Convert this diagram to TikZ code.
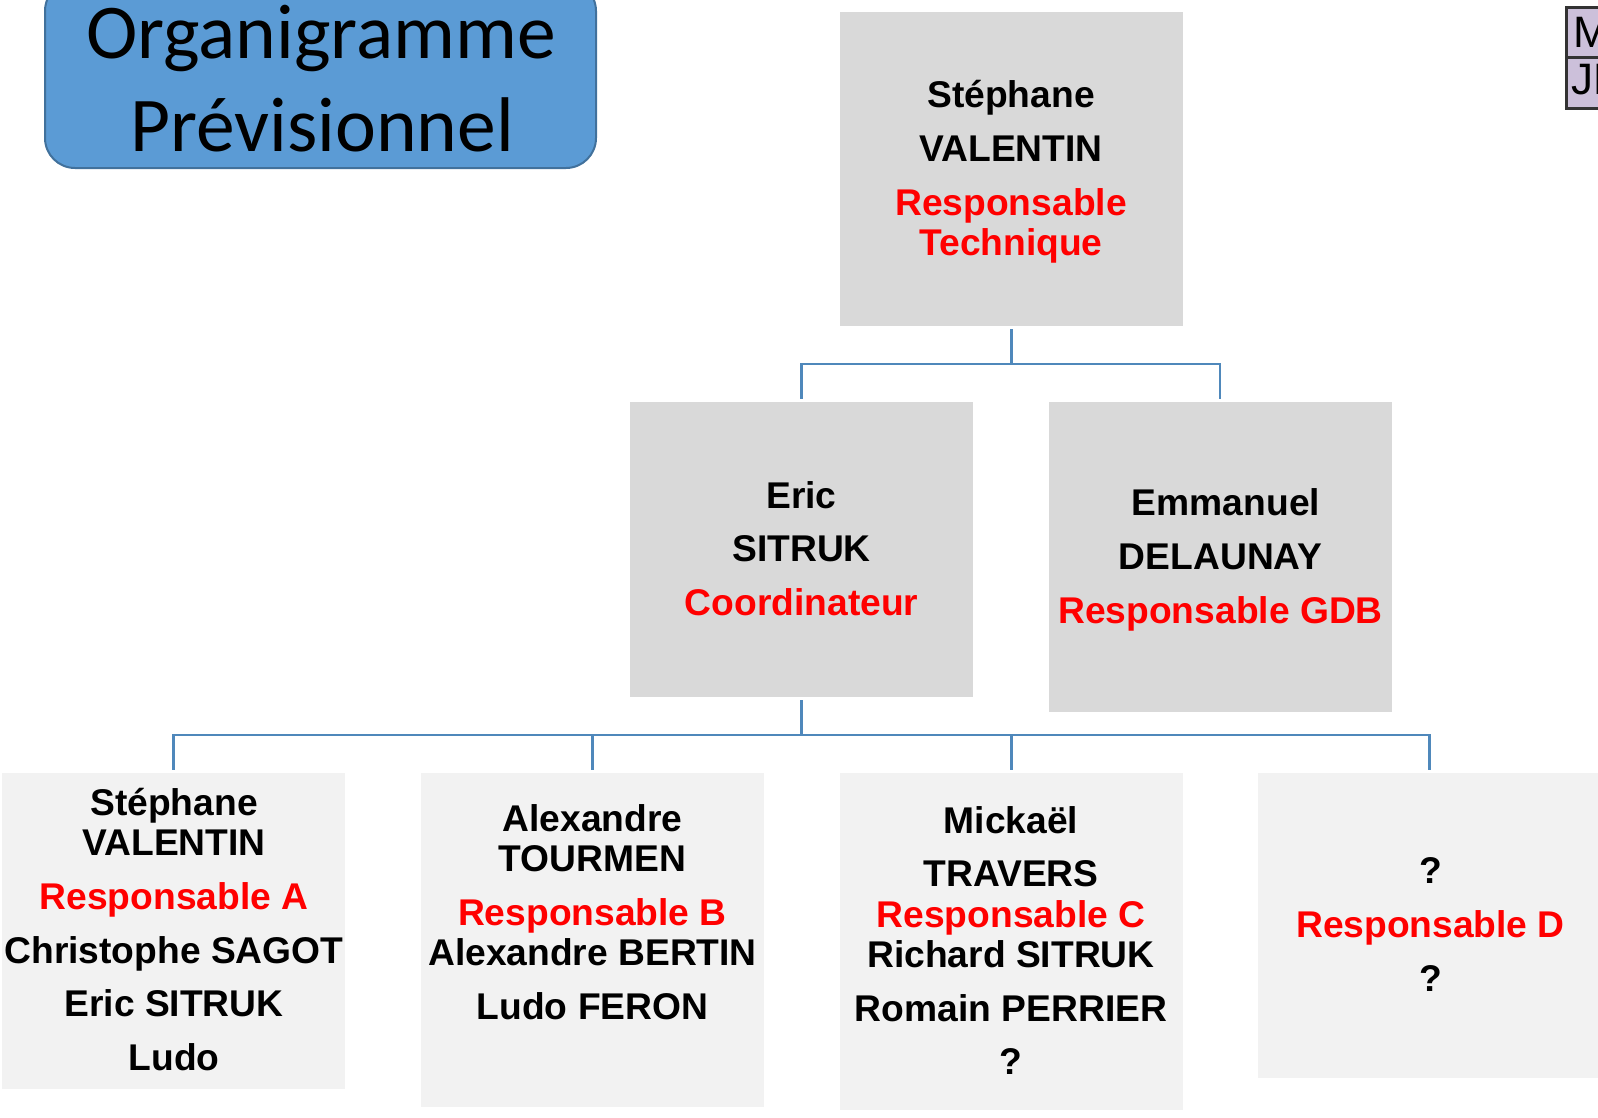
\documentclass[tikz,border=0pt]{standalone}
\usepackage{fontspec}
\setmainfont{Liberation Sans}
\newfontfamily\carlito{Carlito}
\definecolor{titlefill}{HTML}{5B9BD5}
\definecolor{titleline}{HTML}{41719C}
\definecolor{linkblue}{HTML}{4F88BB}
\definecolor{boxdark}{HTML}{D9D9D9}
\definecolor{boxlight}{HTML}{F2F2F2}
\definecolor{legendfill}{HTML}{CCC0DA}
\definecolor{redtext}{HTML}{FF0000}
\tikzset{
  x=1pt,y=-1pt,
  boxbase/.style={anchor=north west,inner sep=0pt,outer sep=0pt,minimum width=343pt},
  darkbox/.style={boxbase,fill=boxdark},
  lightbox/.style={boxbase,fill=boxlight},
  person/.style={anchor=base,inner sep=0pt,font=\fontsize{37.2}{37.2}\selectfont\bfseries,text=black},
  role/.style={person,text=redtext},
  link/.style={draw=linkblue,line width=2.3pt,shorten >=3pt,shorten <=3pt},
  titleline/.style={anchor=base,inner sep=0pt,font=\carlito\fontsize{77.5}{77.5}\selectfont,text=black},
  legendcell/.style={anchor=north west,inner sep=0pt,outer sep=0pt,fill=legendfill,draw=black!80,line width=3pt,minimum width=60pt},
  legendtext/.style={anchor=base west,inner sep=0pt,font=\fontsize{44}{44}\selectfont,text=black},
}
\begin{document}
\begin{tikzpicture}
\useasboundingbox (0,0) rectangle (1598,1117);
\clip (0,0) rectangle (1598,1117);
% title
\node[anchor=north west,inner sep=0pt,minimum width=551pt,minimum height=187pt,rounded corners=30pt,fill=titlefill,draw=titleline,line width=2pt] (title) at (44,-20) {};
\node[titleline] (t1) at (321,58.5) {Organigramme};
\node[titleline] (t2) at (322,151) {Prévisionnel};
% legend
\node[legendcell,minimum height=50pt] (leg1) at (1566,7) {};
\node[legendcell,minimum height=51pt] (leg2) at (1566,57) {};
\node[legendtext] (legt1) at (1573,47) {M};
\node[legendtext] (legt2) at (1571,94) {JB};
% boxes
\node[darkbox,minimum height=314pt] (top) at (840,12) {};
\node[darkbox,minimum height=295.5pt] (eric) at (630,401.5) {};
\node[darkbox,minimum height=310.5pt] (emm) at (1048.5,401.5) {};
\node[lightbox,minimum height=316.5pt] (b1) at (2,772.5) {};
\node[lightbox,minimum height=334.5pt] (b2) at (421,772.5) {};
\node[lightbox,minimum height=337.5pt] (b3) at (840,772.5) {};
\node[lightbox,minimum height=305pt] (b4) at (1258,772.5) {};
% connectors
\coordinate (busa) at (1011,364);
\coordinate (busb) at (801,735);
\draw[link] (top.south) |- (busa) -| (eric.north);
\draw[link] (top.south) |- (busa) -| (emm.north);
\draw[link] (eric.south) |- (busb) -| (b1.north);
\draw[link] (eric.south) |- (busb) -| (b2.north);
\draw[link] (eric.south) |- (busb) -| (b3.north);
\draw[link] (eric.south) |- (busb) -| (b4.north);
% top
\node[person] (a1) at (1011,107) {Stéphane};
\node[person] (a2) at (1011,161) {VALENTIN};
\node[role] (a3) at (1011,215) {Responsable};
\node[role] (a4) at (1011,255) {Technique};
% eric
\node[person] (c1) at (801.5,508) {Eric};
\node[person] (c2) at (801.5,561) {SITRUK};
\node[role] (c3) at (801.5,615) {Coordinateur};
% emm
\node[person] (d1) at (1226,515) {Emmanuel};
\node[person] (d2) at (1220.5,569) {DELAUNAY};
\node[role] (d3) at (1220.5,623) {Responsable GDB};
% b1
\node[person] (e1) at (174,815) {Stéphane};
\node[person] (e2) at (174,855) {VALENTIN};
\node[role] (e3) at (174,909) {Responsable A};
\node[person] (e4) at (174,963) {Christophe SAGOT};
\node[person] (e5) at (174,1016) {Eric SITRUK};
\node[person] (e6) at (174,1070) {Ludo};
% b2
\node[person] (f1) at (592.5,831) {Alexandre};
\node[person] (f2) at (592.5,871) {TOURMEN};
\node[role] (f3) at (592.5,925) {Responsable B};
\node[person] (f4) at (592.5,965) {Alexandre BERTIN};
\node[person] (f5) at (592.5,1019) {Ludo FERON};
% b3
\node[person] (g1) at (1011,833) {Mickaël};
\node[person] (g2) at (1011,886) {TRAVERS};
\node[role] (g3) at (1011,927) {Responsable C};
\node[person] (g4) at (1011,967) {Richard SITRUK};
\node[person] (g5) at (1011,1021) {Romain PERRIER};
\node[person] (g6) at (1011,1074) {?};
% b4
\node[person] (h1) at (1430.5,883) {?};
\node[role] (h2) at (1430.5,937) {Responsable D};
\node[person] (h3) at (1430.5,991) {?};
\end{tikzpicture}
\end{document}
